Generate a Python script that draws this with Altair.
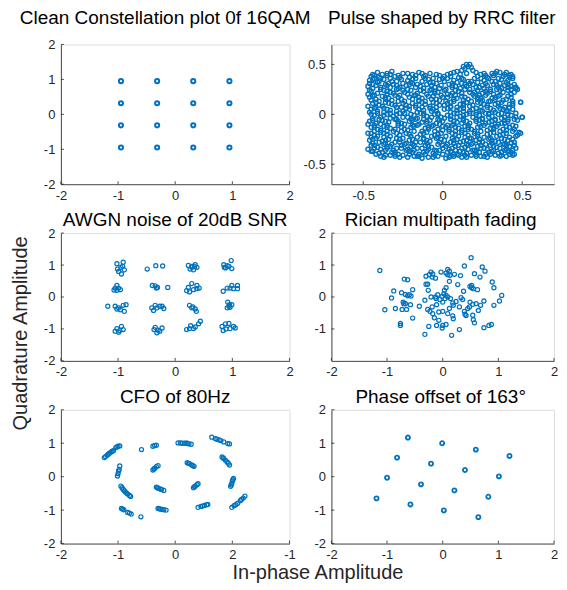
import altair as alt
import pandas as pd

BLUE = "#0072BD"
FONT = "Liberation Sans"
GREY = "#262626"

# ---------------- data ----------------
qam_levels = [-0.949, -0.316, 0.316, 0.949]
clean_points = [(i, q) for q in qam_levels for i in qam_levels]

rrc_points = [
    (-0.44,0.40),(-0.41,0.42),(-0.38,0.40),(-0.35,0.41),(-0.32,0.43),(-0.28,0.39),(-0.25,0.41),(-0.19,0.40),(-0.15,0.42),(-0.11,0.39),(-0.08,0.41),(-0.04,0.40),(0.01,0.38),(0.05,0.41),(0.09,0.43),(0.12,0.44),(0.14,0.46),(0.16,0.48),(0.17,0.50),(0.18,0.47),(0.21,0.42),(0.24,0.40),(0.27,0.39),(0.31,0.41),(0.34,0.43),(0.36,0.42),(0.39,0.40),(0.42,0.39),(0.44,0.38),
    (-0.45,0.38),(-0.40,0.37),(-0.35,0.39),(-0.30,0.38),(-0.21,0.37),(-0.17,0.39),(-0.12,0.38),(-0.06,0.36),(-0.02,0.39),(0.05,0.38),(0.11,0.40),(0.15,0.41),(0.19,0.44),(0.22,0.38),(0.28,0.37),(0.32,0.39),(0.38,0.38),(0.43,0.40),
    (-0.46,0.34),(-0.43,0.36),(-0.40,0.33),(-0.37,0.35),(-0.33,0.36),(-0.29,0.33),(-0.26,0.35),(-0.22,0.34),(-0.17,0.36),(-0.13,0.33),(-0.09,0.35),(-0.06,0.32),(-0.02,0.35),(0.03,0.36),(0.07,0.34),(0.10,0.37),(0.13,0.35),(0.16,0.33),(0.20,0.36),(0.26,0.34),(0.29,0.36),(0.33,0.33),(0.37,0.35),(0.41,0.34),(0.44,0.36),
    (-0.46,0.31),(-0.41,0.32),(-0.36,0.30),(-0.32,0.33),(-0.25,0.31),(-0.20,0.32),(-0.16,0.30),(-0.08,0.32),(-0.04,0.31),(0.01,0.33),(0.06,0.31),(0.09,0.32),(0.14,0.30),(0.18,0.33),(0.22,0.32),(0.27,0.31),(0.31,0.33),(0.36,0.31),(0.40,0.32),(0.45,0.30),
    (-0.47,0.28),(-0.44,0.30),(-0.39,0.27),(-0.35,0.29),(-0.31,0.30),(-0.27,0.27),(-0.23,0.29),(-0.19,0.31),(-0.14,0.28),(-0.10,0.30),(-0.05,0.27),(-0.01,0.29),(0.04,0.30),(0.08,0.28),(0.12,0.31),(0.15,0.28),(0.19,0.30),(0.23,0.27),(0.28,0.29),(0.32,0.30),(0.35,0.27),(0.39,0.29),(0.43,0.28),(0.46,0.26),
    (-0.44,0.26),(-0.39,0.25),(-0.33,0.27),(-0.28,0.26),(-0.22,0.25),(-0.17,0.27),(-0.12,0.26),(-0.08,0.24),(-0.02,0.26),(0.02,0.25),(0.06,0.27),(0.11,0.26),(0.17,0.25),(0.21,0.27),(0.26,0.26),(0.30,0.25),(0.37,0.26),(0.41,0.27),(0.47,0.25),
    (-0.45,0.23),(-0.41,0.21),(-0.37,0.24),(-0.33,0.22),(-0.29,0.25),(-0.24,0.22),(-0.20,0.24),(-0.16,0.21),(-0.12,0.23),(-0.07,0.25),(-0.03,0.22),(0.01,0.24),(0.06,0.21),(0.10,0.23),(0.14,0.25),(0.17,0.22),(0.22,0.24),(0.25,0.21),(0.30,0.23),(0.34,0.25),(0.38,0.22),(0.41,0.24),(0.45,0.22),
    (-0.47,0.20),(-0.43,0.19),(-0.35,0.20),(-0.31,0.21),(-0.27,0.19),(-0.22,0.20),(-0.18,0.19),(-0.10,0.20),(-0.05,0.21),(-0.01,0.19),(0.03,0.20),(0.08,0.19),(0.12,0.21),(0.19,0.20),(0.23,0.19),(0.28,0.21),(0.32,0.20),(0.36,0.19),(0.43,0.20),
    (-0.46,0.17),(-0.42,0.15),(-0.38,0.18),(-0.34,0.16),(-0.30,0.19),(-0.26,0.15),(-0.21,0.17),(-0.17,0.19),(-0.13,0.16),(-0.09,0.18),(-0.04,0.15),(0.00,0.17),(0.05,0.19),(0.09,0.16),(0.12,0.18),(0.16,0.15),(0.20,0.18),(0.24,0.16),(0.27,0.19),(0.31,0.16),(0.35,0.18),(0.40,0.15),(0.43,0.17),
    (-0.45,0.14),(-0.40,0.13),(-0.36,0.15),(-0.32,0.14),(-0.24,0.13),(-0.19,0.15),(-0.15,0.14),(-0.11,0.13),(-0.07,0.15),(-0.02,0.14),(0.02,0.13),(0.07,0.15),(0.13,0.14),(0.18,0.13),(0.22,0.15),(0.25,0.14),(0.29,0.13),(0.33,0.15),(0.38,0.14),(0.44,0.13),
    (-0.44,0.11),(-0.40,0.09),(-0.36,0.12),(-0.32,0.10),(-0.28,0.13),(-0.23,0.09),(-0.19,0.11),(-0.15,0.13),(-0.11,0.10),(-0.06,0.12),(-0.02,0.09),(0.03,0.11),(0.07,0.13),(0.11,0.10),(0.15,0.12),(0.19,0.09),(0.22,0.12),(0.26,0.10),(0.30,0.13),(0.33,0.10),(0.37,0.12),(0.42,0.10),(0.49,0.12),
    (-0.47,0.08),(-0.42,0.07),(-0.38,0.08),(-0.30,0.09),(-0.26,0.07),(-0.21,0.08),(-0.17,0.09),(-0.13,0.07),(-0.08,0.08),(-0.04,0.07),(0.01,0.09),(0.05,0.08),(0.09,0.07),(0.13,0.09),(0.17,0.08),(0.24,0.07),(0.28,0.09),(0.35,0.08),(0.39,0.07),(0.44,0.09),
    (-0.45,0.05),(-0.41,0.03),(-0.37,0.06),(-0.33,0.04),(-0.29,0.07),(-0.25,0.03),(-0.21,0.05),(-0.17,0.07),(-0.12,0.04),(-0.08,0.06),(-0.04,0.03),(0.01,0.05),(0.05,0.07),(0.09,0.04),(0.13,0.06),(0.17,0.03),(0.21,0.06),(0.24,0.04),(0.28,0.07),(0.32,0.04),(0.36,0.06),(0.40,0.03),(0.44,0.05),
    (-0.46,0.02),(-0.41,0.01),(-0.37,0.02),(-0.33,0.01),(-0.29,0.03),(-0.24,0.01),(-0.16,0.02),(-0.12,0.01),(-0.07,0.03),(-0.03,0.01),(0.05,0.02),(0.09,0.01),(0.13,0.03),(0.17,0.01),(0.21,0.02),(0.25,0.03),(0.29,0.01),(0.33,0.02),(0.37,0.01),(0.41,0.03),(0.46,0.01),
    (-0.43,-0.01),(-0.39,-0.03),(-0.35,0.00),(-0.31,-0.02),(-0.27,0.01),(-0.22,-0.03),(-0.18,-0.01),(-0.14,0.01),(-0.10,-0.02),(-0.05,0.00),(-0.01,-0.03),(0.03,-0.01),(0.07,0.01),(0.11,-0.02),(0.15,0.00),(0.19,-0.03),(0.23,-0.01),(0.27,0.01),(0.31,-0.02),(0.35,0.00),(0.39,-0.03),(0.43,-0.01),(0.50,-0.03),
    (-0.44,-0.04),(-0.40,-0.05),(-0.33,-0.04),(-0.29,-0.05),(-0.25,-0.03),(-0.20,-0.05),(-0.16,-0.04),(-0.12,-0.05),(-0.07,-0.03),(-0.03,-0.05),(0.01,-0.04),(0.05,-0.05),(0.09,-0.03),(0.13,-0.04),(0.21,-0.05),(0.25,-0.04),(0.29,-0.03),(0.33,-0.05),(0.37,-0.04),(0.41,-0.05),(0.46,-0.03),
    (-0.46,-0.07),(-0.42,-0.09),(-0.38,-0.06),(-0.34,-0.08),(-0.30,-0.05),(-0.26,-0.09),(-0.21,-0.07),(-0.17,-0.05),(-0.13,-0.08),(-0.08,-0.06),(-0.04,-0.09),(0.00,-0.07),(0.05,-0.05),(0.09,-0.08),(0.13,-0.06),(0.17,-0.09),(0.21,-0.07),(0.25,-0.05),(0.29,-0.08),(0.33,-0.06),(0.37,-0.09),(0.41,-0.07),(0.45,-0.05),
    (-0.47,-0.10),(-0.43,-0.11),(-0.39,-0.10),(-0.35,-0.11),(-0.28,-0.09),(-0.24,-0.10),(-0.19,-0.11),(-0.15,-0.10),(-0.10,-0.09),(-0.06,-0.11),(-0.02,-0.10),(0.03,-0.11),(0.07,-0.10),(0.12,-0.09),(0.16,-0.11),(0.23,-0.10),(0.27,-0.09),(0.31,-0.11),(0.35,-0.10),(0.39,-0.09),(0.44,-0.11),
    (-0.45,-0.13),(-0.41,-0.15),(-0.37,-0.12),(-0.33,-0.14),(-0.28,-0.11),(-0.24,-0.15),(-0.20,-0.13),(-0.16,-0.11),(-0.11,-0.14),(-0.07,-0.12),(-0.03,-0.15),(0.02,-0.13),(0.06,-0.11),(0.10,-0.14),(0.14,-0.12),(0.18,-0.15),(0.22,-0.13),(0.26,-0.11),(0.30,-0.14),(0.34,-0.12),(0.38,-0.15),(0.42,-0.13),(0.49,-0.19),
    (-0.43,-0.17),(-0.39,-0.16),(-0.35,-0.17),(-0.30,-0.15),(-0.26,-0.17),(-0.22,-0.16),(-0.13,-0.17),(-0.09,-0.15),(-0.05,-0.17),(0.00,-0.16),(0.04,-0.15),(0.08,-0.17),(0.12,-0.16),(0.16,-0.15),(0.20,-0.17),(0.28,-0.16),(0.32,-0.15),(0.36,-0.17),(0.40,-0.16),(0.45,-0.15),
    (-0.47,-0.19),(-0.43,-0.21),(-0.39,-0.18),(-0.35,-0.20),(-0.31,-0.17),(-0.27,-0.21),(-0.23,-0.19),(-0.18,-0.17),(-0.14,-0.20),(-0.10,-0.18),(-0.05,-0.21),(-0.01,-0.19),(0.04,-0.17),(0.08,-0.20),(0.12,-0.18),(0.16,-0.21),(0.20,-0.19),(0.24,-0.17),(0.28,-0.20),(0.32,-0.18),(0.36,-0.21),(0.40,-0.19),(0.44,-0.17),
    (-0.45,-0.23),(-0.41,-0.22),(-0.37,-0.23),(-0.33,-0.22),(-0.29,-0.24),(-0.20,-0.22),(-0.16,-0.23),(-0.12,-0.24),(-0.07,-0.22),(-0.03,-0.23),(0.02,-0.22),(0.06,-0.24),(0.10,-0.22),(0.14,-0.23),(0.18,-0.24),(0.22,-0.22),(0.26,-0.23),(0.30,-0.24),(0.34,-0.22),(0.42,-0.23),(0.46,-0.22),
    (-0.46,-0.26),(-0.42,-0.24),(-0.38,-0.27),(-0.34,-0.25),(-0.30,-0.28),(-0.25,-0.24),(-0.21,-0.26),(-0.17,-0.28),(-0.12,-0.25),(-0.08,-0.27),(-0.04,-0.24),(0.01,-0.26),(0.05,-0.28),(0.09,-0.25),(0.13,-0.27),(0.17,-0.24),(0.21,-0.26),(0.25,-0.28),(0.29,-0.25),(0.33,-0.27),(0.37,-0.24),(0.41,-0.26),(0.45,-0.28),
    (-0.44,-0.29),(-0.40,-0.28),(-0.36,-0.29),(-0.32,-0.30),(-0.27,-0.28),(-0.23,-0.29),(-0.19,-0.30),(-0.14,-0.28),(-0.10,-0.29),(-0.02,-0.28),(0.03,-0.30),(0.07,-0.29),(0.11,-0.28),(0.15,-0.30),(0.19,-0.29),(0.23,-0.28),(0.27,-0.30),(0.31,-0.29),(0.35,-0.28),(0.39,-0.30),(0.43,-0.29),
    (-0.45,-0.31),(-0.41,-0.33),(-0.37,-0.30),(-0.33,-0.32),(-0.29,-0.34),(-0.24,-0.30),(-0.20,-0.32),(-0.16,-0.34),(-0.11,-0.31),(-0.07,-0.33),(-0.03,-0.30),(0.02,-0.32),(0.06,-0.34),(0.10,-0.31),(0.14,-0.33),(0.18,-0.30),(0.22,-0.32),(0.26,-0.34),(0.30,-0.31),(0.34,-0.33),(0.38,-0.30),(0.42,-0.32),(0.46,-0.34),
    (-0.47,-0.35),(-0.43,-0.34),(-0.39,-0.35),(-0.35,-0.34),(-0.31,-0.36),(-0.26,-0.34),(-0.22,-0.35),(-0.18,-0.36),(-0.13,-0.34),(-0.09,-0.35),(-0.05,-0.36),(0.00,-0.34),(0.04,-0.35),(0.08,-0.36),(0.12,-0.34),(0.16,-0.35),(0.20,-0.36),(0.24,-0.34),(0.28,-0.35),(0.32,-0.36),(0.36,-0.34),(0.40,-0.35),(0.44,-0.36),
    (-0.44,-0.37),(-0.40,-0.39),(-0.36,-0.36),(-0.32,-0.38),(-0.28,-0.40),(-0.23,-0.36),(-0.19,-0.38),(-0.15,-0.40),(-0.10,-0.37),(-0.06,-0.39),(-0.02,-0.36),(0.03,-0.38),(0.07,-0.40),(0.11,-0.37),(0.15,-0.39),(0.19,-0.36),(0.23,-0.38),(0.27,-0.40),(0.31,-0.37),(0.35,-0.39),(0.39,-0.36),(0.43,-0.38),(0.45,-0.40),
    (-0.42,-0.40),(-0.36,-0.41),(-0.30,-0.40),(-0.25,-0.41),(-0.21,-0.40),(-0.16,-0.42),(-0.11,-0.40),(-0.05,-0.41),(0.00,-0.40),(0.05,-0.42),(0.09,-0.40),(0.14,-0.41),(0.21,-0.40),(0.26,-0.42),(0.30,-0.40),(0.37,-0.41),(0.42,-0.40),
    (-0.39,-0.42),(-0.33,-0.41),(-0.27,-0.43),(-0.18,-0.42),(-0.13,-0.44),(-0.09,-0.43),(-0.03,-0.42),(0.02,-0.44),(0.07,-0.42),(0.12,-0.43),(0.18,-0.41),(0.24,-0.42),(0.33,-0.41),(0.40,-0.42),(0.44,-0.41),
    (0.48,-0.18),(0.50,-0.03),(0.49,0.12),(0.46,0.27),
    (-0.43,0.39),(-0.33,0.40),(-0.22,0.41),(-0.13,0.41),(0.03,0.40),(0.07,0.42),(0.26,0.41),(0.33,0.41),(0.40,0.42),(0.13,0.48),(0.15,0.50),
    (-0.44,0.35),(-0.39,0.36),(-0.27,0.37),(-0.19,0.35),(-0.11,0.36),(0.00,0.36),(0.12,0.36),(0.24,0.36),(0.35,0.36),(0.42,0.37),
    (-0.42,0.29),(-0.34,0.31),(-0.29,0.29),(-0.21,0.30),(-0.07,0.29),(0.06,0.29),(0.17,0.31),(0.25,0.29),(0.34,0.29),(0.41,0.30),
    (-0.46,0.24),(-0.35,0.23),(-0.25,0.24),(-0.14,0.24),(-0.05,0.23),(0.08,0.24),(0.20,0.22),(0.27,0.23),(0.36,0.24),(0.43,0.25),
    (-0.44,0.18),(-0.36,0.17),(-0.28,0.17),(-0.15,0.17),(-0.06,0.18),(0.03,0.17),(0.14,0.17),(0.22,0.17),(0.33,0.17),(0.41,0.18),
    (-0.42,0.12),(-0.34,0.11),(-0.25,0.11),(-0.13,0.12),(-0.04,0.11),(0.05,0.12),(0.13,0.11),(0.24,0.12),(0.35,0.11),(0.44,0.11),
    (-0.43,0.06),(-0.35,0.05),(-0.23,0.06),(-0.15,0.05),(-0.06,0.05),(0.03,0.06),(0.11,0.05),(0.19,0.05),(0.30,0.06),(0.38,0.05),(0.42,0.07),
    (-0.45,0.00),(-0.37,-0.01),(-0.29,0.00),(-0.20,0.00),(-0.12,-0.01),(-0.03,0.00),(0.05,-0.02),(0.13,-0.01),(0.21,0.00),(0.29,0.00),(0.41,0.00),
    (-0.44,-0.06),(-0.36,-0.07),(-0.28,-0.07),(-0.19,-0.06),(-0.10,-0.07),(-0.02,-0.06),(0.07,-0.07),(0.15,-0.07),(0.23,-0.06),(0.31,-0.07),(0.39,-0.06),(0.47,-0.06),
    (-0.43,-0.13),(-0.35,-0.13),(-0.26,-0.13),(-0.18,-0.12),(-0.09,-0.13),(0.00,-0.12),(0.08,-0.13),(0.16,-0.13),(0.24,-0.12),(0.32,-0.13),(0.40,-0.12),(0.46,-0.12),
    (-0.45,-0.19),(-0.37,-0.19),(-0.29,-0.19),(-0.21,-0.20),(-0.12,-0.19),(-0.03,-0.20),(0.06,-0.19),(0.14,-0.19),(0.22,-0.20),(0.30,-0.19),(0.38,-0.20),(0.47,-0.21),
    (-0.44,-0.25),(-0.36,-0.26),(-0.27,-0.25),(-0.19,-0.25),(-0.10,-0.26),(-0.01,-0.25),(0.07,-0.26),(0.15,-0.26),(0.23,-0.25),(0.31,-0.26),(0.39,-0.25),(0.44,-0.25),
    (-0.43,-0.31),(-0.35,-0.32),(-0.26,-0.31),(-0.18,-0.31),(-0.09,-0.32),(0.00,-0.31),(0.08,-0.32),(0.16,-0.31),(0.24,-0.31),(0.32,-0.32),(0.40,-0.31),(0.45,-0.31),
    (-0.45,-0.37),(-0.38,-0.38),(-0.30,-0.38),(-0.21,-0.37),(-0.12,-0.38),(-0.04,-0.37),(0.05,-0.37),(0.13,-0.38),(0.21,-0.37),(0.29,-0.38),(0.37,-0.38),(0.41,-0.37),
    (-0.37,-0.43),(-0.30,-0.42),(-0.22,-0.43),(-0.15,-0.42),(-0.06,-0.43),(0.04,-0.43),(0.10,-0.41),(0.15,-0.43),(0.21,-0.42),(0.28,-0.43),(0.36,-0.42),
]

awgn_points = [
    (-1.02,1.04),(-0.91,1.09),(-1.01,0.875),(-0.95,0.93),(-0.89,0.85),(-0.99,0.80),(-0.94,0.72),(-0.92,0.96),
    (-0.49,0.875),(-0.34,0.98),(-0.22,0.97),
    (0.23,0.99),(0.29,0.96),(0.35,1.01),(0.38,0.93),(0.26,0.875),(0.32,0.85),(0.29,0.93),(0.34,0.95),
    (0.85,1.01),(0.98,1.14),(0.94,0.96),(0.88,0.91),(0.99,0.89),(0.91,0.98),(0.86,0.93),
    (-1.02,0.36),(-0.99,0.28),(-1.05,0.28),(-1.02,0.21),(-0.96,0.23),(-1.07,0.22),
    (-0.40,0.36),(-0.35,0.35),(-0.31,0.30),(-0.33,0.28),(-0.13,0.30),
    (0.23,0.30),(0.29,0.42),(0.38,0.36),(0.42,0.28),(0.25,0.16),(0.32,0.23),(0.38,0.26),(0.20,0.20),
    (0.84,0.18),(0.91,0.28),(0.99,0.36),(1.09,0.36),(1.09,0.26),(1.02,0.26),(0.96,0.28),
    (-1.18,-0.29),(-1.05,-0.29),(-0.99,-0.34),(-0.91,-0.26),(-0.86,-0.24),(-0.96,-0.40),(-0.89,-0.45),(-1.02,-0.375),
    (-0.41,-0.34),(-0.35,-0.26),(-0.27,-0.29),(-0.20,-0.36),(-0.38,-0.42),(-0.32,-0.34),(-0.23,-0.29),
    (0.25,-0.26),(0.31,-0.31),(0.35,-0.375),(0.37,-0.45),(0.29,-0.34),
    (0.92,-0.16),(0.95,-0.24),(0.91,-0.34),(0.99,-0.24),(0.96,-0.32),(0.94,-0.29),
    (-1.05,-1.07),(-0.94,-0.92),(-0.97,-1.05),(-0.91,-1.02),(-1.02,-0.99),(-0.99,-1.10),
    (-0.35,-0.95),(-0.30,-1.04),(-0.32,-1.12),(-0.23,-0.97),(-0.27,-1.07),(-0.37,-1.02),
    (0.20,-1.02),(0.27,-0.90),(0.35,-0.94),(0.41,-0.84),(0.44,-0.76),(0.25,-0.99),(0.32,-0.99),
    (0.82,-0.92),(0.88,-0.84),(0.94,-0.83),(1.02,-0.92),(1.05,-0.97),(0.84,-1.05),(0.96,-0.99),(0.89,-1.00),
]

rician_points = [
    (-1.13,0.83),(-1.04,-0.40),(-0.92,-0.03),(-0.88,0.19),(-0.85,-0.36),(-0.76,-0.89),(-0.76,-0.83),
    (-0.74,0.135),(-0.71,-0.16),(-0.70,-0.21),(-0.69,0.56),(-0.63,0.54),(-0.67,0.08),(-0.63,0.04),
    (-0.60,0.07),(-0.57,0.03),(-0.65,-0.39),(-0.73,-0.39),(-0.67,-0.21),(-0.58,-0.24),(-0.54,0.23),
    (-0.54,-0.66),(-0.42,-0.29),(-0.32,-1.17),(-0.32,-0.10),(-0.30,0.65),(-0.27,0.40),(-0.30,0.40),
    (-0.26,0.21),(-0.24,0.70),(-0.21,0.78),(-0.19,0.625),(-0.18,0.72),(-0.13,0.59),(-0.27,-0.39),
    (-0.23,-0.45),(-0.21,0.00),(-0.19,-0.31),(-0.18,-0.52),(-0.25,-0.92),(-0.15,-0.65),(-0.13,0.00),
    (-0.12,-0.05),(-0.11,-0.24),(-0.09,0.07),(-0.07,-0.73),(-0.07,-0.47),(-0.05,-0.08),(-0.11,-0.89),
    (-0.03,0.78),(-0.01,0.02),(0.00,-0.16),(0.00,-0.45),(0.00,-0.89),(-0.01,-0.97),(0.02,0.10),
    (0.03,0.21),(0.04,-0.05),(0.06,-0.86),(0.06,0.75),(0.09,0.86),(0.09,0.70),(0.12,0.81),(0.13,0.68),
    (0.06,0.29),(0.06,0.05),(0.09,0.00),(0.09,-0.52),(0.12,-0.36),(0.12,0.49),(0.14,-0.05),(0.16,-1.20),
    (0.18,-0.19),(0.18,-0.59),(0.19,-0.68),(0.19,-0.26),(0.21,0.71),(0.24,-0.14),(0.27,0.39),(0.30,-1.02),
    (0.32,0.67),(0.30,-0.31),(0.33,-0.02),(0.36,-0.08),(0.375,0.18),(0.39,0.97),(0.39,-0.45),(0.40,-0.54),
    (0.42,-0.58),(0.45,-0.36),(0.48,-0.31),(0.49,-0.16),(0.49,0.33),(0.51,1.23),(0.52,0.36),(0.52,0.29),
    (0.55,0.26),(0.54,-0.23),(0.54,-0.57),(0.55,-0.71),(0.57,0.73),(0.57,-0.81),(0.60,-0.21),(0.625,0.23),
    (0.64,-0.42),(0.67,0.625),(0.68,-0.26),(0.71,0.94),(0.76,0.81),(0.74,-0.125),(0.74,-0.96),(0.83,-0.89),
    (0.875,-0.86),(0.89,0.47),(0.92,0.29),(0.92,-0.26),(1.02,-0.125),(1.06,0.05),
]

cfo_points = [
    (-1.24,0.57),(-1.22,0.60),(-1.19,0.64),(-1.17,0.67),(-1.15,0.70),(-1.12,0.74),(-1.10,0.76),(-1.08,0.78),
    (-1.04,0.87),(-1.02,0.89),(-1.00,0.91),(-0.97,0.92),
    (-0.59,0.81),
    (-0.39,0.91),(-0.36,0.93),(-0.33,0.94),
    (0.05,1.01),(0.09,1.01),(0.12,1.00),(0.16,1.00),(0.19,1.00),(0.21,1.00),(0.24,0.98),(0.28,0.97),
    (0.64,1.18),(0.70,1.14),(0.73,1.12),(0.77,1.10),(0.80,1.08),(0.85,1.04),(0.92,0.99),(0.95,0.98),
    (0.82,0.59),(0.84,0.56),(0.85,0.54),(0.88,0.49),(0.91,0.44),(0.93,0.40),(0.95,0.35),
    (1.02,-0.05),(1.01,-0.09),(1.00,-0.13),(0.99,-0.21),(0.98,-0.25),(0.97,-0.29),
    (0.99,-0.92),(1.03,-0.87),(1.06,-0.84),(1.09,-0.80),(1.14,-0.72),(1.16,-0.68),(1.19,-0.64),(1.22,-0.58),
    (0.40,-0.92),(0.45,-0.89),(0.48,-0.88),(0.51,-0.86),(0.55,-0.84),(0.57,-0.83),
    (-0.97,0.32),(-0.98,0.22),(-0.99,0.17),(-1.00,0.09),(-1.01,0.02),
    (-0.39,0.20),(-0.37,0.23),(-0.36,0.25),(-0.33,0.30),(-0.30,0.33),
    (0.21,0.42),(0.23,0.40),(0.25,0.39),(0.29,0.35),(0.31,0.33),(0.33,0.31),
    (-0.95,-0.28),(-0.93,-0.33),(-0.91,-0.38),(-0.89,-0.42),(-0.87,-0.46),(-0.85,-0.49),(-0.83,-0.52),(-0.80,-0.56),(-0.78,-0.59),
    (-0.33,-0.31),(-0.31,-0.33),(-0.29,-0.35),(-0.26,-0.37),(-0.24,-0.38),(-0.20,-0.41),
    (0.32,-0.33),(0.34,-0.30),(0.35,-0.28),(0.38,-0.24),(0.40,-0.21),
    (-0.94,-0.95),(-0.92,-0.97),(-0.90,-0.99),(-0.83,-1.07),(-0.80,-1.09),(-0.77,-1.12),
    (-0.60,-1.20),
    (-0.30,-0.95),(-0.28,-0.96),(-0.26,-0.97),(-0.23,-0.98),(-0.20,-0.99),(-0.16,-1.00),
]

phase_points = [
    (-0.625,1.17),(-0.01,1.00),(0.595,0.81),(1.20,0.62),
    (-0.82,0.57),(-0.21,0.39),(0.40,0.20),(1.01,0.01),
    (-1.00,-0.03),(-0.39,-0.23),(0.21,-0.41),(0.82,-0.60),
    (-1.19,-0.65),(-0.58,-0.83),(0.02,-1.01),(0.64,-1.21),
]

ticks_2 = [-2, -1, 0, 1, 2]
ticks_rician_y = [-1, 0, 1, 2]
ticks_rrc = [-0.5, 0, 0.5]

titles = [
    "Clean Constellation plot 0f 16QAM",
    "Pulse shaped by RRC filter",
    "AWGN noise of 20dB SNR",
    "Rician multipath fading",
    "CFO of 80Hz",
    "Phase offset of 163°",
]
x_axis_title = "In-phase Amplitude"
y_axis_title = "Quadrature Amplitude"

PLAIN = "'' + datum.value"
CFO_X = "datum.value == 1 ? '2' : datum.value == 2 ? '-1' : '' + datum.value"


def panel(points, xdom, ydom, xticks, yticks, w, h, title, tdx=0, gap=7,
          sw=1.2, size=17, xexpr=PLAIN, xtitle=None, ytitle=None):
    df = pd.DataFrame(points, columns=["i", "q"])
    common = dict(ticks=False, grid=False, labelFlush=False, labelOverlap=False,
                  domainColor=GREY, domainWidth=0.8, labelFont=FONT,
                  labelFontSize=13, labelColor=GREY)
    xa = dict(common, values=xticks, labelExpr=xexpr, labelPadding=5)
    ya = dict(common, values=yticks, labelExpr=PLAIN, labelPadding=6)
    if xtitle:
        xa.update(title=xtitle, titleX=257, titleY=35, titleAlign="center",
                  titleBaseline="alphabetic", titleAngle=0, titleFont=FONT,
                  titleFontSize=20, titleFontWeight="normal", titleColor=GREY)
    else:
        xa["title"] = None
    if ytitle:
        ya.update(title=ytitle, titleX=-34, titleY=100, titleAlign="center",
                  titleBaseline="alphabetic", titleAngle=270, titleFont=FONT,
                  titleFontSize=20, titleFontWeight="normal", titleColor=GREY)
    else:
        ya["title"] = None
    xenc = alt.X("i:Q", scale=alt.Scale(domain=xdom, nice=False, zero=False),
                 axis=alt.Axis(**xa))
    yenc = alt.Y("q:Q", scale=alt.Scale(domain=ydom, nice=False, zero=False),
                 axis=alt.Axis(**ya))
    pts = alt.Chart(df).mark_point(shape="circle", filled=False, size=size,
                                   strokeWidth=sw, color=BLUE, opacity=1).encode(x=xenc, y=yenc)
    xt = alt.Chart(pd.DataFrame({"i": xticks})).mark_rule(color=GREY, strokeWidth=0.8).encode(
        x=xenc, y=alt.value(h), y2=alt.value(h - 3))
    yt = alt.Chart(pd.DataFrame({"q": yticks})).mark_rule(color=GREY, strokeWidth=0.8).encode(
        y=yenc, x=alt.value(0), x2=alt.value(3))
    ttl = alt.Chart(pd.DataFrame({"t": [title]})).mark_text(
        font=FONT, fontSize=19, color="black", align="center", baseline="alphabetic"
    ).encode(text="t:N", x=alt.value(w / 2 + tdx), y=alt.value(-gap))
    return alt.layer(pts, xt, yt, ttl).properties(width=w, height=h)


W_L, W_R = 229, 223
p1 = panel(clean_points, [-2, 2], [-2, 2], ticks_2, ticks_2, W_L, 140, titles[0], tdx=-10, gap=20, sw=2.0)
p2 = panel(rrc_points, [-0.7, 0.7], [-0.7, 0.7], ticks_rrc, ticks_rrc, W_R, 140, titles[1], tdx=-1, gap=20, sw=1.4)
p3 = panel(awgn_points, [-2, 2], [-2, 2], ticks_2, ticks_2, W_L, 128, titles[2], ytitle=y_axis_title)
p4 = panel(rician_points, [-2, 2], [-2, 2], ticks_2, ticks_rician_y, W_R, 128, titles[3], tdx=-2)
p5 = panel(cfo_points, [-2, 2], [-2, 2], ticks_2, ticks_2, W_L, 134, titles[4], xexpr=CFO_X, xtitle=x_axis_title)
p6 = panel(phase_points, [-2, 2], [-2, 2], ticks_2, ticks_2, W_R, 134, titles[5], tdx=-2, sw=1.8)

chart = alt.concat(p1, p2, p3, p4, p5, p6, columns=2,
                   spacing={"row": 49, "column": 42}).properties(
    bounds="flush", padding={"left": 2, "top": 0, "right": 0, "bottom": 0}
).configure_view(stroke=None).configure(background="white")

chart.save("out.html", embed_options={"renderer": "svg", "actions": False})
